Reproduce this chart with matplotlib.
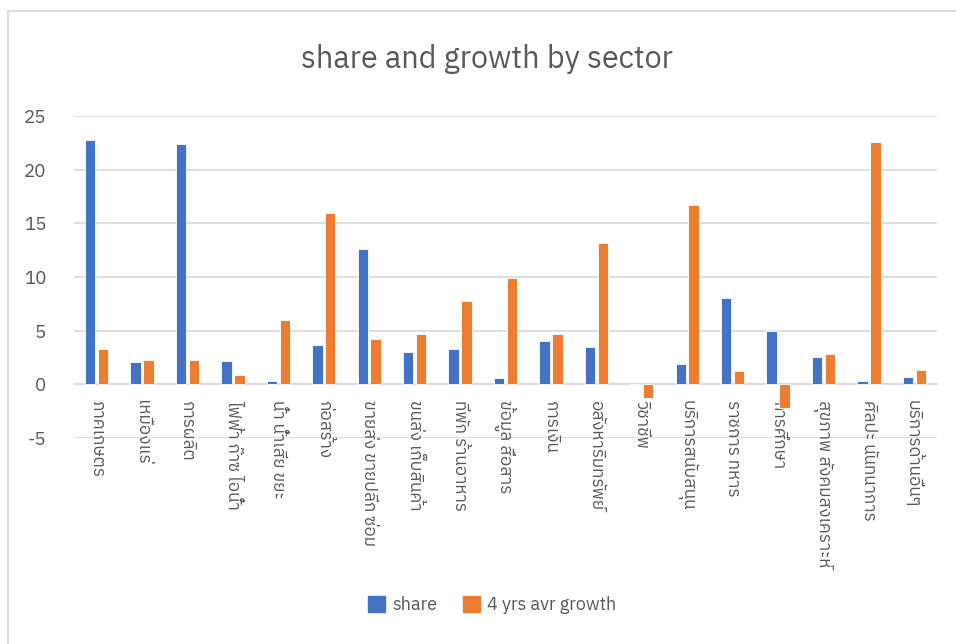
import matplotlib
matplotlib.use("Agg")
import matplotlib.pyplot as plt
import numpy as np
from matplotlib import font_manager as fm
from matplotlib.ft2font import FT2Font
from matplotlib.lines import Line2D

categories = [
    "ภาคเกษตร", "เหมืองแร่", "การผลิต", "ไฟฟ้า ก๊าซ ไอน้ำ", "น้ำ น้ำเสีย ขยะ",
    "ก่อสร้าง", "ขายส่ง ขายปลีก ซ่อม", "ขนส่ง เก็บสินค้า", "ที่พัก ร้านอาหาร",
    "ข้อมูล สื่อสาร", "การเงิน", "อสังหาริมทรัพย์", "วิชาชีพ", "บริการสนับสนุน",
    "ราชการ ทหาร", "การศึกษา", "สุขภาพ สังคมสงเคราะห์", "ศิลปะ นันทนาการ",
    "บริการด้านอื่นๆ",
]
share = [22.8, 2.1, 22.4, 2.2, 0.35, 3.65, 12.6, 3.0, 3.3, 0.62,
         4.07, 3.5, 0.03, 1.9, 8.0, 4.98, 2.55, 0.31, 0.68]
growth = [3.3, 2.27, 2.3, 0.9, 6.0, 16.0, 4.23, 4.73, 7.75, 9.95,
          4.73, 13.15, -1.24, 16.67, 1.24, -2.24, 2.83, 22.54, 1.37]
series_names = ["share", "4 yrs avr growth"]
yticks = [-5, 0, 5, 10, 15, 20, 25]
title = "share and growth by sector"

# find a font with Thai glyphs
thai_font = None
cands = []
for f in fm.fontManager.ttflist:
    try:
        cm = FT2Font(f.fname).get_charmap()
    except Exception:
        continue
    if all(c in cm for c in (0x0E01, 0x0E29, 0x0E49, 0x0E4C)):
        cands.append(f.name)
for pref in cands:
    if "Thai" in pref:
        thai_font = pref
        break
if thai_font is None and cands:
    thai_font = cands[0]
fam = ([thai_font] if thai_font else []) + ["DejaVu Sans"]
plt.rcParams["font.family"] = fam
plt.rcParams["axes.unicode_minus"] = False

TXT = "#595959"
BLUE = "#4472C4"
ORANGE = "#ED7D31"
GRID = "#D9D9D9"

W, H = 956, 644
fig = plt.figure(figsize=(W / 100, H / 100), dpi=100)
ax = fig.add_axes([74 / W, 1 - 438 / H, (937 - 74) / W, (438 - 116) / H])

x = np.arange(len(categories))
bw = 0.23
ax.bar(x - 0.142, share, bw, color=BLUE, edgecolor="white", linewidth=0.6, zorder=3, label=series_names[0])
ax.bar(x + 0.142, growth, bw, color=ORANGE, edgecolor="white", linewidth=0.6, zorder=3, label=series_names[1])

ax.set_xlim(-0.5, len(categories) - 0.5)
ax.set_ylim(-5, 25)
ax.set_yticks(yticks)
for yv in yticks:
    ax.axhline(yv, color=GRID, lw=1.2, zorder=1)
for s in ["left", "right", "top"]:
    ax.spines[s].set_visible(False)
ax.spines["bottom"].set_position(("data", 0))
ax.spines["bottom"].set_color(GRID)
ax.spines["bottom"].set_linewidth(1.2)
ax.tick_params(axis="y", length=0, pad=20, labelsize=13.5, labelcolor=TXT)
ax.tick_params(axis="x", length=0, pad=11, labelsize=12.3, labelcolor=TXT)
ax.set_xticks(x)
ax.set_xticklabels(categories, rotation=-90, ha="center", va="top")

fig.text(487 / W, 1 - 59 / H, title, ha="center", va="center", fontsize=22, color=TXT)

handles = [plt.Rectangle((0, 0), 1, 1, color=BLUE), plt.Rectangle((0, 0), 1, 1, color=ORANGE)]
fig.legend(handles, series_names, loc="center", bbox_to_anchor=(492 / W, 1 - 605 / H), ncol=2,
           frameon=False, fontsize=13, labelcolor=TXT, handlelength=0.95, handleheight=0.95,
           columnspacing=1.4, handletextpad=0.4)

# chart border (left and top visible)
fig.add_artist(Line2D([8 / W, 8 / W], [0, 1 - 11 / H], color=GRID, lw=1.3, transform=fig.transFigure))
fig.add_artist(Line2D([8 / W, 1.0], [1 - 11 / H, 1 - 11 / H], color=GRID, lw=1.3, transform=fig.transFigure))

fig.savefig("out.png", dpi=100, facecolor="white")
